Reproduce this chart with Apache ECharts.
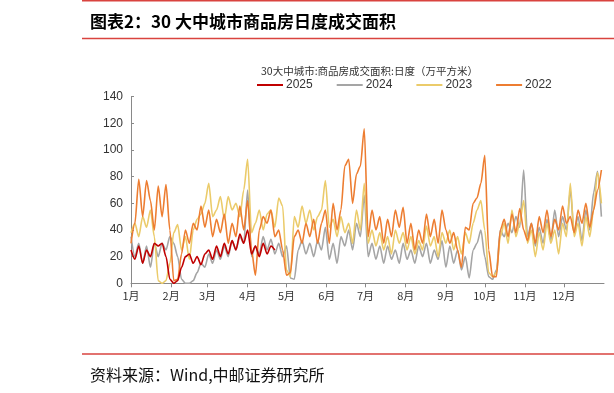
<!DOCTYPE html>
<html>
<head>
<meta charset="utf-8">
<script src="https://cdn.jsdelivr.net/npm/echarts@6/dist/echarts.min.js"></script>
<style>
html,body{margin:0;padding:0;background:#fff;}
#c{width:614px;height:393px;}
</style>
</head>
<body>
<div id="c"></div>
<script>
// Day-of-year step between readings (days)
const STEP = 3;
const monthStarts = [0, 31, 59, 90, 120, 151, 181, 212, 243, 273, 304, 334];
const monthLabels = ['1月','2月','3月','4月','5月','6月','7月','8月','9月','10月','11月','12月'];
const yTicks = [0, 20, 40, 60, 80, 100, 120, 140];
const seriesNames = ['2025', '2024', '2023', '2022'];

const v2022 = [30,45,78,50,77,62,40,73,50,74,40,2,3,22,40,30,45,40,58,42,
  55,35,48,38,52,30,45,35,58,40,62,25,6,40,50,45,55,35,40,25,
  6,8,35,40,30,45,35,48,30,45,55,30,60,40,55,88,93,60,82,88,
  116,35,55,40,50,30,48,35,55,42,57,30,45,25,40,30,52,35,48,30,
  55,40,30,38,25,12,42,40,60,64,75,96,25,5,5,40,48,35,52,38,
  56,40,32,45,30,50,38,55,35,48,40,58,45,50,38,55,45,60,42,55,
  70,85];
const v2023 = [38,45,35,50,42,55,35,2,0,2,15,38,44,25,35,18,40,48,52,60,
  75,50,55,65,48,65,55,60,50,70,93,38,45,55,40,52,55,42,64,58,
  10,5,50,42,58,45,55,40,50,55,77,42,48,35,50,38,45,30,55,40,
  75,30,40,28,38,25,35,22,40,30,38,25,35,22,32,25,43,28,35,20,
  38,30,40,25,35,22,38,30,45,55,62,40,8,5,8,35,45,30,55,35,
  45,62,30,40,20,38,25,45,30,40,22,45,35,75,35,45,28,50,35,55,
  83,60];
const v2024 = [35,20,30,15,28,12,30,20,30,25,35,30,20,3,0,0,2,8,15,12,
  22,15,25,18,28,20,32,25,35,30,70,20,28,22,35,25,33,22,30,20,
  28,4,3,25,32,22,30,20,32,25,42,18,30,15,35,28,40,25,45,35,
  66,20,30,18,28,15,28,18,25,15,30,18,25,15,28,20,30,15,25,18,
  32,12,28,15,25,10,20,4,25,30,40,20,5,3,10,40,35,45,38,50,
  42,85,35,45,28,42,30,48,32,55,35,50,40,70,38,50,32,55,40,68,
  84,50];
const v2025 = [25,18,28,15,25,20,30,28,30,20,3,0,2,12,20,22,15,20,14,22,
  25,18,28,20,30,22,32,25,37,30,40,22,28,20,30,22,28,25];

const colors = {'2025':'#C00000','2024':'#A5A5A5','2023':'#EBCB6A','2022':'#ED7D31'};
const values = {'2025':v2025,'2024':v2024,'2023':v2023,'2022':v2022};
const zOrder = {'2024':1,'2023':2,'2022':3,'2025':4};

const chart = echarts.init(document.getElementById('c'), null, {renderer:'canvas'});
const FONT = '"Noto Sans CJK SC", sans-serif';

const series = seriesNames.map(n => ({
  name: n,
  type: 'line',
  data: values[n].map((v, i) => [i * STEP, v]),
  showSymbol: false,
  smooth: 0.25,
  smoothMonotone: 'x',
  z: zOrder[n],
  lineStyle: {width: 1.6, color: colors[n]},
  itemStyle: {color: colors[n]}
}));

chart.setOption({
  animation: false,
  backgroundColor: '#fff',
  title: [
    {text: '图表2：30 大中城市商品房日度成交面积', left: 85, top: 8,
     textStyle: {fontFamily: FONT, fontSize: 17, fontWeight: 'bold', color: '#000'}},
    {text: '30大中城市:商品房成交面积:日度（万平方米）', left: 256, top: 61,
     textStyle: {fontFamily: FONT, fontSize: 10.5, fontWeight: 'normal', color: '#333'}},
    {text: '资料来源：Wind,中邮证券研究所', left: 85, top: 362,
     textStyle: {fontFamily: FONT, fontSize: 16, fontWeight: 'normal', color: '#111'}}
  ],
  graphic: [
    {type: 'line', shape: {x1: 82, y1: 0.8, x2: 614, y2: 0.8}, style: {stroke: '#D9433F', lineWidth: 1.6}},
    {type: 'line', shape: {x1: 82, y1: 38.5, x2: 614, y2: 38.5}, style: {stroke: '#D9433F', lineWidth: 1.6}},
    {type: 'line', shape: {x1: 82, y1: 354, x2: 614, y2: 354}, style: {stroke: '#D9433F', lineWidth: 1.6}}
  ],
  legend: {
    data: seriesNames.map(n => ({name: n, icon: 'rect'})),
    left: 252, top: 74,
    itemWidth: 26, itemHeight: 2, itemGap: 24,
    textStyle: {fontFamily: 'Liberation Sans, Arial, sans-serif', fontSize: 12, color: '#333', padding: [0,0,0,-2]}
  },
  grid: {left: 131, right: 10, top: 96.7, bottom: 109.7, containLabel: false},
  xAxis: {
    type: 'value', min: 0, max: 365,
    splitLine: {show: false},
    axisLine: {lineStyle: {color: '#898989', width: 1}},
    axisTick: {show: true, customValues: monthStarts, length: 4, lineStyle: {color: '#898989'}},
    axisLabel: {
      customValues: monthStarts,
      formatter: v => monthLabels[monthStarts.indexOf(v)] || '',
      fontFamily: FONT, fontSize: 11, color: '#333', margin: 7
    }
  },
  yAxis: {
    type: 'value', min: yTicks[0], max: yTicks[yTicks.length - 1], interval: 20,
    splitLine: {show: false},
    axisLine: {show: true, lineStyle: {color: '#898989', width: 1}},
    axisTick: {show: true, inside: true, length: 3, lineStyle: {color: '#898989'}},
    axisLabel: {fontFamily: 'Liberation Sans, Arial, sans-serif', fontSize: 12, color: '#333', margin: 8}
  },
  series: series
});
</script>
</body>
</html>
